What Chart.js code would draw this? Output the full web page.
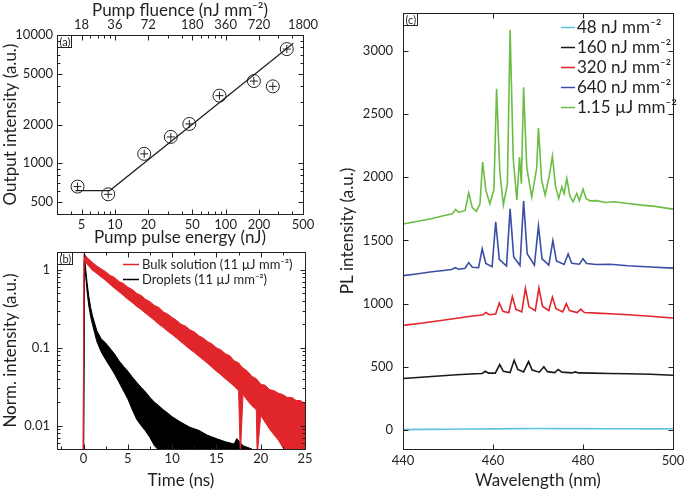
<!DOCTYPE html>
<html>
<head>
<meta charset="utf-8">
<script src="https://cdn.jsdelivr.net/npm/chart.js@4.4.1/dist/chart.umd.min.js"></script>
<style>
  body { margin: 0; background: #fff; }
  canvas { position: absolute; }
</style>
</head>
<body>
<canvas id="chartA" width="340" height="248" style="left:0;top:0"></canvas>
<canvas id="chartB" width="340" height="243" style="left:0;top:248px"></canvas>
<canvas id="chartC" width="348" height="491" style="left:337px;top:0"></canvas>
<script>
/* Lasing droplets figure: (a) threshold, (b) decay, (c) spectra */

// (a) output vs pump energy
const energy = [4.6, 8.7, 18.4, 32, 47, 88, 180, 267, 357];
const outputIntensity = [655, 570, 1180, 1600, 2020, 3360, 4370, 3970, 7760];
const fitEnergy = [4.4, 9, 409];
const fitIntensity = [610, 610, 8610];
const energyTicks = [5, 10, 20, 50, 100, 200, 500];
const fluenceTicks = [18, 36, 72, 180, 360, 720, 1800];
const outputTicks = [500, 1000, 2000, 5000, 10000];

// (b) normalised decays, upper / lower edge of the noisy trace
const bulkTime = [-0.05, 0.05, 0.5, 1, 1.5, 2, 2.5, 3, 3.5, 4, 4.5, 5, 5.5, 6, 6.5, 7, 7.5, 8, 8.5, 9, 9.5, 10, 10.5, 11, 11.5, 12, 12.5, 13, 13.5, 14, 14.5, 15, 15.5, 16, 16.5, 17, 17.5, 17.7, 18, 18.5, 19, 19.5, 19.6, 20, 20.5, 21, 21.5, 22, 22.5, 23, 23.5, 24, 24.5, 25];
const bulkHigh = [0.004, 1.62, 1.4, 1.25, 1.12, 1.03, 0.95, 0.85, 0.8, 0.71, 0.67, 0.6, 0.56, 0.5, 0.47, 0.42, 0.39, 0.35, 0.33, 0.29, 0.27, 0.245, 0.225, 0.2, 0.19, 0.17, 0.16, 0.143, 0.133, 0.12, 0.112, 0.1, 0.094, 0.084, 0.079, 0.068, 0.064, 0.06, 0.055, 0.05, 0.043, 0.04, 0.039, 0.034, 0.033, 0.029, 0.028, 0.026, 0.025, 0.023, 0.023, 0.021, 0.021, 0.019];
const bulkLow = [0.004, 1.35, 1.15, 0.99, 0.9, 0.81, 0.73, 0.65, 0.58, 0.525, 0.47, 0.42, 0.38, 0.34, 0.31, 0.277, 0.25, 0.225, 0.2, 0.182, 0.163, 0.148, 0.133, 0.119, 0.107, 0.096, 0.087, 0.078, 0.07, 0.063, 0.056, 0.05, 0.045, 0.04, 0.036, 0.032, 0.028, 0.004, 0.025, 0.021, 0.018, 0.016, 0.004, 0.0135, 0.011, 0.009, 0.0076, 0.0065, 0.0052, 0.0045, 0.004, 0.004, 0.004, 0.004];
const dropTime = [0, 0.1, 0.25, 0.4, 0.6, 0.8, 1, 1.5, 2, 2.5, 3, 3.5, 4, 4.5, 5, 5.5, 6, 6.5, 7, 7.5, 8, 8.5, 9, 9.5, 10, 11, 12, 13, 14, 15, 16, 17, 17.3, 18, 19, 20];
const dropHigh = [0.004, 1.5, 1.0, 0.68, 0.45, 0.33, 0.26, 0.165, 0.13, 0.115, 0.098, 0.083, 0.068, 0.058, 0.05, 0.042, 0.036, 0.031, 0.027, 0.023, 0.02, 0.018, 0.016, 0.0145, 0.013, 0.011, 0.0095, 0.0087, 0.0075, 0.0068, 0.0062, 0.0058, 0.0068, 0.0055, 0.005, 0.004];
const dropLow = [0.004, 1.3, 0.8, 0.52, 0.34, 0.25, 0.2, 0.12, 0.088, 0.07, 0.057, 0.046, 0.036, 0.028, 0.022, 0.016, 0.012, 0.01, 0.0085, 0.007, 0.0055, 0.0048, 0.004, 0.004, 0.004, 0.004, 0.004, 0.004, 0.004, 0.004, 0.004, 0.004, 0.004, 0.004, 0.004, 0.004];
const decayLabels = ['Bulk solution (11 \u00b5J mm\u207b\u00b2)', 'Droplets (11 \u00b5J mm\u207b\u00b2)'];
const timeTicks = [0, 5, 10, 15, 20, 25];
const normTicks = [0.01, 0.1, 1];

// (c) PL spectra
const spectraLabels = ['48 nJ mm\u207b\u00b2', '160 nJ mm\u207b\u00b2', '320 nJ mm\u207b\u00b2', '640 nJ mm\u207b\u00b2', '1.15 \u00b5J mm\u207b\u00b2'];
const wl48 = [440, 445, 450, 455, 460, 465, 470, 475, 480, 485, 490, 495, 500];
const pl48 = [3, 5, 6, 8, 9, 11, 12, 11, 11, 10, 10, 9, 10];
const wl160 = [440, 444, 448, 452, 456, 457.6, 458.3, 459, 460.5, 461.5, 462.3, 463.8, 464.7, 465.5, 466.8, 467.9, 468.7, 470.3, 471.3, 472.1, 473.7, 474.5, 475.3, 477.5, 478.3, 479, 482, 486, 490, 495, 500];
const pl160 = [408, 418, 428, 438, 445, 448, 465, 450, 450, 518, 465, 455, 552, 480, 460, 542, 475, 458, 500, 462, 455, 479, 458, 452, 460, 452, 450, 448, 446, 441, 434];
const wl320 = [440, 444, 448, 452, 455, 457, 457.8, 458.4, 459.2, 460.6, 461.4, 462.2, 463.5, 464.3, 465.1, 466.4, 467.2, 468, 469.4, 470.2, 471, 472.4, 473.2, 474, 475.5, 476.3, 477, 478.7, 479.5, 480.3, 483, 486, 490, 495, 500];
const pl320 = [828, 845, 865, 885, 900, 908, 912, 930, 912, 918, 1005, 940, 928, 1057, 955, 935, 1123, 975, 945, 1123, 980, 945, 1052, 960, 935, 999, 945, 930, 957, 930, 925, 920, 912, 900, 886];
const wl640 = [440, 443, 446, 449, 450.8, 451.6, 452.4, 453.8, 454.6, 455.4, 456.8, 457.6, 458.4, 459.8, 460.6, 461.4, 463, 463.8, 464.6, 466, 466.8, 467.6, 469.2, 470.1, 470.9, 472.4, 473.3, 474.1, 475.8, 476.7, 477.5, 479.2, 480, 480.8, 483, 486, 490, 495, 500];
const pl640 = [1222, 1235, 1250, 1262, 1270, 1285, 1272, 1280, 1325, 1288, 1285, 1435, 1318, 1292, 1648, 1350, 1298, 1750, 1370, 1302, 1813, 1395, 1305, 1614, 1355, 1305, 1498, 1338, 1310, 1393, 1320, 1312, 1356, 1318, 1310, 1312, 1300, 1290, 1281];
const wl1150 = [440, 443, 446, 449, 451, 451.7, 452.4, 453.8, 454.6, 455.4, 456.3, 457.1, 457.7, 458.4, 459.3, 460.2, 460.8, 461.5, 462.3, 463.2, 463.8, 464.5, 465.3, 465.9, 466.3, 466.8, 467.5, 468.6, 469.7, 470.1, 470.8, 471.6, 472.5, 473.2, 473.9, 474.6, 475.3, 475.8, 476.4, 477.1, 477.8, 478.6, 479.2, 480, 480.7, 481.6, 483, 485, 487, 490, 493, 496, 500];
const pl1150 = [1630, 1650, 1670, 1695, 1712, 1745, 1722, 1738, 1877, 1760, 1730, 1790, 2121, 1900, 1790, 1900, 2700, 2050, 1780, 1950, 3166, 2150, 1820, 2160, 1950, 2713, 2080, 1845, 2070, 2390, 1980, 1858, 2011, 2166, 1930, 1833, 1924, 1870, 1990, 1850, 1806, 1872, 1815, 1906, 1830, 1813, 1815, 1800, 1806, 1793, 1780, 1770, 1748];
const wavelengthTicks = [440, 460, 480, 500];
const plTicks = [0, 500, 1000, 1500, 2000, 2500, 3000];

const INK = '#231f20';
const FONT = 'Lato, "Open Sans", sans-serif';
const RED = '#e1262b';

const xy = (xs, ys) => xs.map((x, i) => ({ x, y: ys[i] }));

function logMinors(min, max) {
    const out = [];
    for (let e = Math.floor(Math.log10(min)); e <= Math.ceil(Math.log10(max)); e++) {
        for (let k = 2; k < 10; k++) {
            const v = k * Math.pow(10, e);
            if (v > min && v < max) out.push(v);
        }
    }
    return out;
}

// box frame, inward ticks, panel tag and legend
const panelDecor = {
    id: 'panelDecor',
    afterDatasetsDraw(chart, args, opts) {
        const { ctx, chartArea: a } = chart;
        const xs = chart.scales.x, ys = chart.scales.y;
        ctx.save();
        ctx.strokeStyle = INK;
        ctx.lineWidth = 1;
        const L = Math.round(a.left) + 0.5, R = Math.round(a.right) + 0.5;
        const T = Math.round(a.top) + 0.5, B = Math.round(a.bottom) + 0.5;
        ctx.strokeRect(L, T, R - L, B - T);

        const tick = (scale, v, len) => {
            const p = Math.round(scale.getPixelForValue(v)) + 0.5;
            ctx.beginPath();
            if (scale.isHorizontal()) {
                if (p < L || p > R) return;
                ctx.moveTo(p, B); ctx.lineTo(p, B - len);
                ctx.moveTo(p, T); ctx.lineTo(p, T + len);
            } else {
                if (p < T || p > B) return;
                ctx.moveTo(L, p); ctx.lineTo(L + len, p);
                ctx.moveTo(R, p); ctx.lineTo(R - len, p);
            }
            ctx.stroke();
        };
        (opts.xMinor || []).forEach(v => tick(xs, v, 3));
        (opts.yMinor || []).forEach(v => tick(ys, v, 3));
        xs.ticks.forEach(t => tick(xs, t.value, 5));
        ys.ticks.forEach(t => tick(ys, t.value, 5));

        // panel tag like "(a)"
        ctx.font = '11px ' + FONT;
        ctx.textBaseline = 'middle';
        ctx.textAlign = 'left';
        ctx.fillStyle = INK;
        const w = ctx.measureText(opts.tag).width;
        ctx.strokeRect(L, T, Math.round(w + 3), 12);
        ctx.fillText(opts.tag, L + 2, T + 6.5);

        if (opts.legend) {
            const lg = opts.legend;
            ctx.font = lg.size + 'px ' + FONT;
            lg.items.forEach((idx, i) => {
                const ds = chart.data.datasets[idx];
                const y = Math.round(lg.y + i * lg.dy) + 0.5;
                ctx.strokeStyle = ds.borderColor;
                ctx.lineWidth = 1.5;
                ctx.beginPath(); ctx.moveTo(lg.x, y); ctx.lineTo(lg.x + lg.len, y); ctx.stroke();
                ctx.fillStyle = INK;
                ctx.fillText(ds.label, lg.x + lg.len + lg.gap, y);
            });
        }
        ctx.restore();
    }
};

// fixed axis box size, no automatic label padding
function axis(size, opts) {
    return Object.assign({
        grid: { display: false, drawTicks: false },
        border: { display: false },
        afterFit: s => {
            if (s.isHorizontal()) s.height = size; else s.width = size;
            s.paddingTop = s.paddingBottom = s.paddingLeft = s.paddingRight = 0;
        }
    }, opts);
}
const tickFont = { family: FONT, size: 13 };
const titleFont = { family: FONT, size: 17 };
const fixedTicks = list => s => { s.ticks = list.map(v => ({ value: v })); };

document.addEventListener('DOMContentLoaded', () => {
    Chart.defaults.color = INK;
    Chart.defaults.animation = false;

    // (a)
    new Chart(document.getElementById('chartA'), {
        type: 'scatter',
        data: {
            datasets: [{
                data: xy(fitEnergy, fitIntensity),
                showLine: true,
                borderColor: INK,
                borderWidth: 1.2,
                pointRadius: 0,
                tension: 0
            }, {
                data: xy(energy, outputIntensity),
                pointStyle: 'circle',
                pointRadius: 6.5,
                borderColor: INK,
                borderWidth: 1,
                backgroundColor: 'rgba(0,0,0,0)'
            }, {
                data: xy(energy, outputIntensity),
                pointStyle: 'cross',
                pointRadius: 4,
                borderColor: INK,
                borderWidth: 1
            }]
        },
        options: {
            responsive: false,
            layout: { padding: { left: 0, right: 37, top: 0, bottom: 0 } },
            plugins: {
                legend: { display: false },
                tooltip: { enabled: false },
                panelDecor: { tag: '(a)', xMinor: logMinors(3, 500), yMinor: logMinors(400, 10000) }
            },
            scales: {
                x: axis(34, {
                    type: 'logarithmic', position: 'bottom', min: 3, max: 500,
                    afterBuildTicks: fixedTicks(energyTicks),
                    ticks: { font: tickFont, padding: 3, maxRotation: 0, autoSkip: false, callback: v => String(v) },
                    title: { display: true, text: 'Pump pulse energy (nJ)', font: titleFont, padding: 0 }
                }),
                x2: axis(35, {
                    type: 'logarithmic', position: 'top', min: 3 * 3.6, max: 500 * 3.6,
                    afterBuildTicks: fixedTicks(fluenceTicks),
                    ticks: { font: tickFont, padding: 2, maxRotation: 0, autoSkip: false, callback: v => String(v) },
                    title: { display: true, text: 'Pump fluence (nJ mm\u207b\u00b2)', font: titleFont, padding: 0 }
                }),
                y: axis(57, {
                    type: 'logarithmic', min: 400, max: 10000,
                    afterBuildTicks: fixedTicks(outputTicks),
                    ticks: { font: tickFont, padding: 4, autoSkip: false, callback: v => String(v) },
                    title: { display: true, text: 'Output intensity (a.u.)', font: titleFont, padding: 0 }
                })
            }
        },
        plugins: [panelDecor]
    });

    // (b)
    new Chart(document.getElementById('chartB'), {
        type: 'line',
        data: {
            datasets: [{
                label: decayLabels[0],
                data: xy(bulkTime, bulkHigh),
                borderColor: RED, backgroundColor: RED, borderWidth: 1,
                pointRadius: 0, fill: '+1'
            }, {
                data: xy(bulkTime, bulkLow),
                borderColor: RED, borderWidth: 1, pointRadius: 0, fill: false
            }, {
                label: decayLabels[1],
                data: xy(dropTime, dropHigh),
                borderColor: '#000', backgroundColor: '#000', borderWidth: 1,
                pointRadius: 0, fill: '+1'
            }, {
                data: xy(dropTime, dropLow),
                borderColor: '#000', borderWidth: 1, pointRadius: 0, fill: false
            }]
        },
        options: {
            responsive: false,
            layout: { padding: { left: 0, right: 35, top: 4, bottom: 0 } },
            plugins: {
                legend: { display: false },
                tooltip: { enabled: false },
                panelDecor: {
                    tag: '(b)',
                    xMinor: [-2.5, 2.5, 7.5, 12.5, 17.5, 22.5],
                    yMinor: logMinors(0.005, 1.7),
                    legend: { items: [0, 2], x: 123, y: 16, dy: 15.3, len: 16, gap: 3, size: 13 }
                }
            },
            scales: {
                x: axis(42, {
                    type: 'linear', min: -3, max: 25,
                    afterBuildTicks: fixedTicks(timeTicks),
                    ticks: { font: tickFont, padding: 2, maxRotation: 0, autoSkip: false },
                    title: { display: true, text: 'Time (ns)', font: titleFont, padding: 0 }
                }),
                y: axis(57, {
                    type: 'logarithmic', min: 0.005, max: 1.7,
                    afterBuildTicks: fixedTicks(normTicks),
                    ticks: { font: tickFont, padding: 7, autoSkip: false, callback: v => String(v) },
                    title: { display: true, text: 'Norm. intensity (a.u.)', font: titleFont, padding: 0 }
                })
            }
        },
        plugins: [panelDecor]
    });

    // (c)
    const spectra = [[wl48, pl48, '#5ec4dd'], [wl160, pl160, '#1a1a1a'], [wl320, pl320, RED],
                     [wl640, pl640, '#3b4ea5'], [wl1150, pl1150, '#6cbd45']];
    new Chart(document.getElementById('chartC'), {
        type: 'line',
        data: {
            datasets: spectra.map((s, i) => ({
                label: spectraLabels[i],
                data: xy(s[0], s[1]),
                borderColor: s[2],
                borderWidth: 1.6,
                pointRadius: 0,
                tension: 0,
                fill: false
            }))
        },
        options: {
            responsive: false,
            layout: { padding: { left: 0, right: 12, top: 13, bottom: 0 } },
            plugins: {
                legend: { display: false },
                tooltip: { enabled: false },
                panelDecor: {
                    tag: '(c)',
                    legend: { items: [0, 1, 2, 3, 4], x: 224, y: 27, dy: 20, len: 14, gap: 2, size: 17 }
                }
            },
            scales: {
                x: axis(42, {
                    type: 'linear', min: 440, max: 500,
                    afterBuildTicks: fixedTicks(wavelengthTicks),
                    ticks: { font: tickFont, padding: 4, maxRotation: 0, autoSkip: false, callback: v => String(v) },
                    title: { display: true, text: 'Wavelength (nm)', font: titleFont, padding: 0 }
                }),
                y: axis(66, {
                    type: 'linear', min: -150, max: 3300,
                    afterBuildTicks: fixedTicks(plTicks),
                    ticks: { font: tickFont, padding: 10, autoSkip: false, callback: v => String(v) },
                    title: { display: true, text: 'PL intensity (a.u.)', font: titleFont, padding: 0 }
                })
            }
        },
        plugins: [panelDecor]
    });
});
</script>
</body>
</html>
